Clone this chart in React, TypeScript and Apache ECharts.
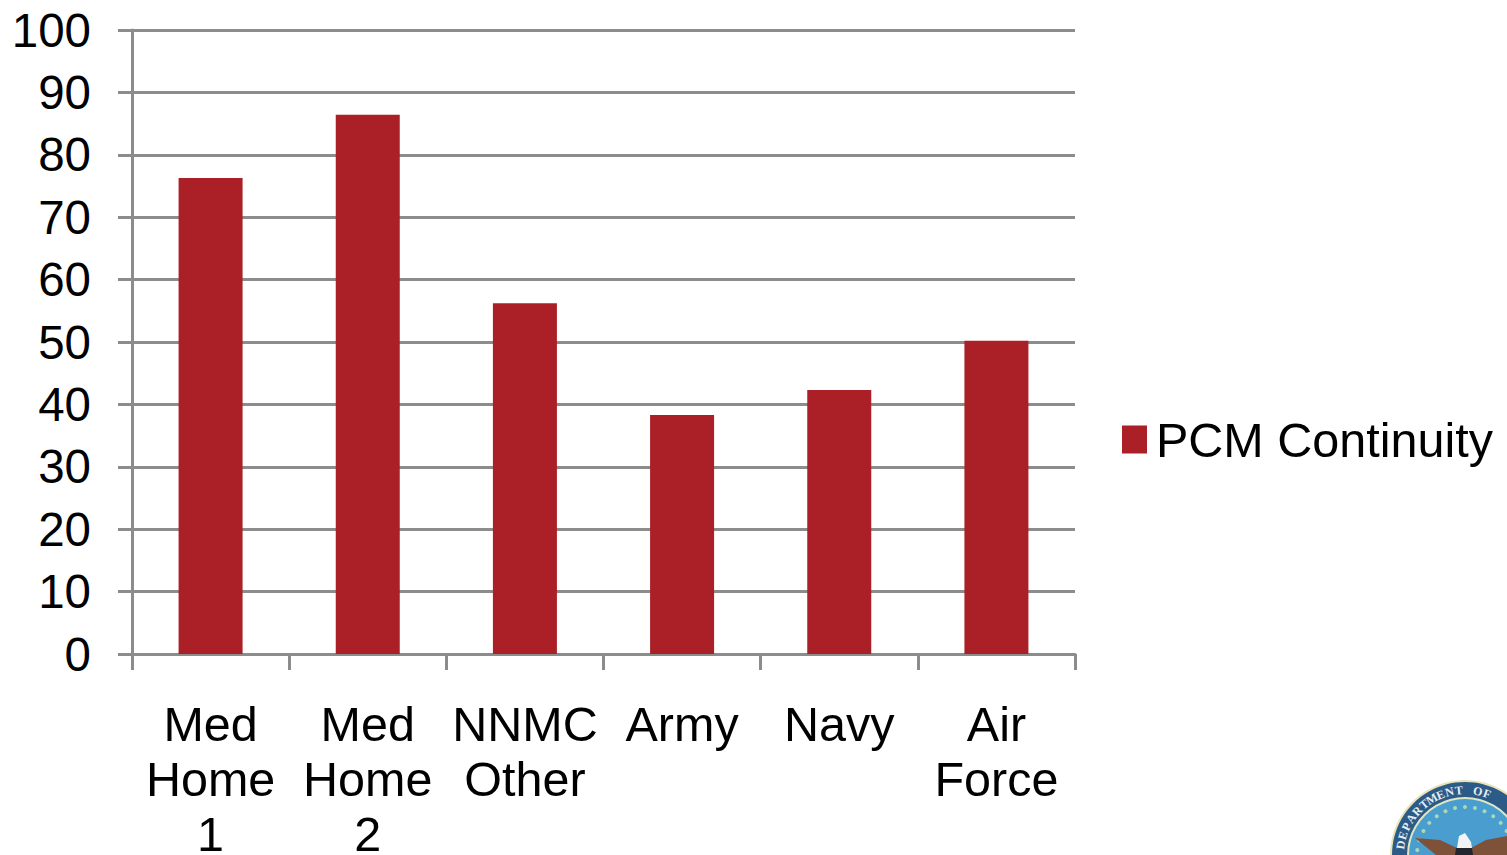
import React, { useEffect, useRef } from "react";
import * as echarts from "echarts";

const categories = ["Med\nHome\n1", "Med\nHome\n2", "NNMC\nOther", "Army", "Navy", "Air\nForce"];
const continuity = [76.3, 86.4, 56.2, 38.3, 42.3, 50.2];
const seriesName = "PCM Continuity";
const sealWords = "DEPARTMENT OF DEFENSE";

const FONT = '"Liberation Sans", Arial, sans-serif';
const AXIS_GREY = "#8c8c8c";
const BAR_RED = "#ab1f26";

// Department seal in the bottom corner: ring, lettering, stars and eagle.
function sealElements() {
  const cx = 1465;
  const cy = 855;
  const items: any[] = [
    { type: "circle", shape: { cx, cy, r: 75 }, style: { fill: "#e9e4b8" } },
    { type: "circle", shape: { cx, cy, r: 73 }, style: { fill: "#2b5b86" } },
    { type: "circle", shape: { cx, cy, r: 58 }, style: { fill: "#dfe6c4" } },
    { type: "circle", shape: { cx, cy, r: 56 }, style: { fill: "#4a9dcf" } },
  ];
  // Only the letters that fall inside the page are placed on the ring.
  sealWords.split("").forEach((ch, i) => {
    const deg = -81 + i * 8.4;
    const a = (deg * Math.PI) / 180;
    const x = cx + 65 * Math.sin(a);
    if (x > 1498) return;
    items.push({
      type: "text",
      x,
      y: cy - 65 * Math.cos(a),
      rotation: -a,
      style: {
        text: ch,
        fill: "#e6edf2",
        font: 'bold 12px "Liberation Serif", serif',
        textAlign: "center",
        textVerticalAlign: "middle",
      },
    });
  });
  for (let i = -7; i <= 7; i++) {
    const a = (i * 12 * Math.PI) / 180;
    items.push({
      type: "circle",
      shape: { cx: cx + 48 * Math.sin(a), cy: cy - 48 * Math.cos(a), r: 2 },
      style: { fill: "#a9d8b4" },
    });
  }
  items.push(
    {
      type: "polygon",
      shape: { points: [[1415, 838], [1440, 840], [1457, 848], [1459, 855], [1436, 855]] },
      style: { fill: "#7d5238" },
    },
    {
      type: "polygon",
      shape: { points: [[1507, 836], [1486, 840], [1471, 848], [1469, 855], [1507, 855]] },
      style: { fill: "#7d5238" },
    },
    {
      type: "polygon",
      shape: { points: [[1456, 848], [1472, 848], [1473, 855], [1455, 855]] },
      style: { fill: "#23262e" },
    },
    {
      type: "polygon",
      shape: { points: [[1459, 836], [1465, 833], [1471, 842], [1472, 848], [1457, 848]] },
      style: { fill: "#f1f3f4" },
    }
  );
  return items;
}

export default function App() {
  const ref = useRef<HTMLDivElement>(null);

  useEffect(() => {
    const chart = echarts.init(ref.current!, undefined, { renderer: "svg" });
    chart.setOption({
      animation: false,
      backgroundColor: "#ffffff",
      grid: { left: 132, right: 432, top: 30, bottom: 201, outerBoundsMode: "none" },
      legend: {
        left: 1122,
        top: 415,
        padding: 0,
        icon: "rect",
        itemWidth: 25,
        itemHeight: 28,
        itemGap: 0,
        selectedMode: false,
        textStyle: { fontFamily: FONT, fontSize: 48.5, color: "#000", padding: [0, 0, 0, 4] },
        data: [seriesName],
      },
      xAxis: {
        type: "category",
        data: categories,
        axisLine: { lineStyle: { color: AXIS_GREY, width: 3 } },
        axisTick: { show: true, length: 16, alignWithLabel: false, lineStyle: { color: AXIS_GREY, width: 3 } },
        axisLabel: {
          interval: 0,
          margin: 42,
          fontFamily: FONT,
          fontSize: 48.5,
          lineHeight: 55,
          color: "#000",
          verticalAlign: "top",
        },
      },
      yAxis: {
        type: "value",
        min: 0,
        max: 100,
        interval: 10,
        axisLine: { show: true, lineStyle: { color: AXIS_GREY, width: 3 } },
        axisTick: { show: true, length: 14, lineStyle: { color: AXIS_GREY, width: 3 } },
        splitLine: { show: true, lineStyle: { color: AXIS_GREY, width: 3 } },
        axisLabel: { margin: 41, fontFamily: FONT, fontSize: 47.5, color: "#000", padding: [0, 0, 3, 0] },
      },
      series: [
        {
          name: seriesName,
          type: "bar",
          data: continuity,
          barWidth: 64,
          itemStyle: { color: BAR_RED },
        },
      ],
      graphic: { elements: sealElements() },
    });
    return () => chart.dispose();
  }, []);

  return <div ref={ref} style={{ position: "fixed", left: 0, top: 0, width: 1507, height: 855 }} />;
}
